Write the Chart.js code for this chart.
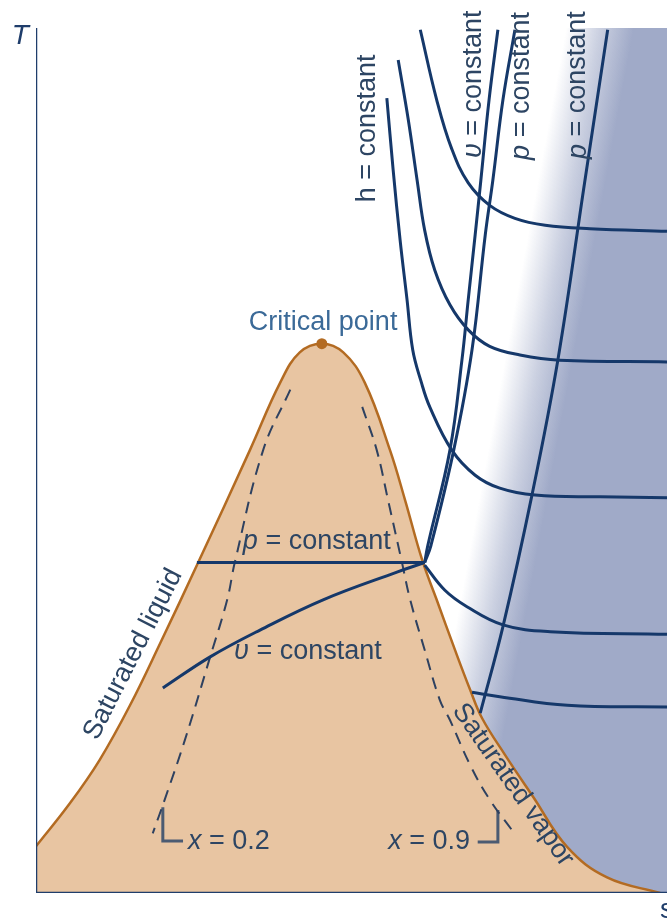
<!DOCTYPE html>
<html>
<head>
<meta charset="utf-8">
<title>T-s diagram</title>
<script src="https://cdn.jsdelivr.net/npm/chart.js@4.4.1/dist/chart.umd.min.js"></script>
<style>
  html, body { margin: 0; padding: 0; background: #fff; }
  canvas { display: block; }
</style>
</head>
<body>
<canvas id="ts" width="667" height="920"></canvas>
<script>
/* T-s diagram: saturation dome with constant p, v, h and quality lines.
 * Axes carry no numbers, so s and T are read on a 0-100 scale of the frame. */

// saturation dome (liquid branch, critical point, vapor branch)
const SAT_S = [0, 5.4, 10.1, 14.9, 19.7, 25.7, 33.9, 38.7, 41.8, 45.3, 48.7, 52.1, 56.1, 58.5, 61.2, 63.5, 66.4, 68.8, 70.7, 74.3, 78.8, 84.2, 90.5, 98.9];
const SAT_T = [5.4, 10.4, 15.4, 21.7, 28.9, 38.2, 51.2, 59.0, 62.5, 63.5, 62.5, 59.0, 51.2, 45.4, 38.5, 33.9, 28.1, 23.5, 20.2, 16.0, 11.1, 5.3, 1.8, 0];
const CRIT = [45.3, 63.5];

// lines that bend over into the superheated region
const H1_S = [60.9, 63.5, 65.9, 68.5, 71.9, 75.9, 80.7, 87.8, 100];
const H1_T = [99.8, 91.7, 86.0, 82.1, 79.5, 78.0, 77.2, 76.8, 76.5];
const H2_S = [57.4, 59.0, 60.4, 61.6, 63.2, 65.6, 68.5, 71.9, 76.7, 83.0, 100];
const H2_T = [96.3, 89.4, 82.4, 76.6, 72.0, 68.0, 65.1, 63.2, 62.2, 61.6, 61.4];
const H3_S = [55.6, 56.6, 57.7, 58.8, 59.7, 61.0, 62.4, 65.9, 69.6, 73.5, 79.1, 89.4, 100];
const H3_T = [91.9, 83.6, 75.5, 68.6, 62.8, 59.2, 56.2, 51.2, 48.3, 46.8, 46.0, 45.8, 45.7];
const H4_S = [61.6, 64.8, 68.3, 74.0, 81.5, 100];
const H4_T = [37.9, 35.0, 33.1, 31.0, 30.2, 29.9];
const H5_S = [69.1, 73.5, 84.2, 100];
const H5_T = [23.2, 22.7, 21.7, 21.5];

// constant volume: inside the dome and above it
const V_DOME_S = [20.1, 27.6, 35.5, 45.5, 57.2, 61.6];
const V_DOME_T = [23.7, 27.3, 30.4, 33.9, 37.1, 38.2];
const V_UP_S = [61.6, 62.1, 65.6, 67.5, 68.5, 69.6, 70.5, 71.8, 73.2];
const V_UP_T = [38.2, 40.2, 51.2, 61.6, 68.6, 76.1, 82.4, 91.7, 99.8];

// constant pressure: flat across the dome, then steep
const P_FLAT_S = [25.5, 61.6];
const P_FLAT_T = [38.2, 38.2];
const P_UP_S = [61.6, 62.6, 66.2, 69.1, 71.2, 72.4, 74.0, 75.9];
const P_UP_T = [38.2, 40.2, 51.2, 62.8, 76.1, 82.4, 91.7, 99.8];
const P2_S = [90.6, 87.0, 82.7, 78.6, 74.0, 70.4];
const P2_T = [99.8, 82.4, 61.6, 46.0, 30.8, 20.8];

// quality lines x = 0.2 and x = 0.9, with their label tags
const X02_S = [40.3, 36.0, 31.5, 30.3, 27.6, 23.6, 20.4, 18.5];
const X02_T = [58.2, 51.2, 38.2, 33.9, 27.3, 17.7, 10.8, 6.9];
const X09_S = [51.7, 54.0, 55.8, 58.0, 59.3, 61.6, 64.0, 65.6, 68.8, 71.9, 75.6];
const X09_T = [56.2, 51.2, 45.4, 38.2, 33.9, 28.1, 22.3, 20.0, 14.8, 10.8, 7.1];
const TAG02_S = [20.1, 20.1, 23.3];
const TAG02_T = [9.9, 6.0, 6.0];
const TAG09_S = [70.0, 73.2, 73.2];
const TAG09_T = [5.9, 5.9, 9.6];

const AXIS_S = [0, 0, 100];
const AXIS_T = [100, 0, 0];

// styling
const NAVY = "#15386a", DOME_LINE = "#b36b22", DOME_FILL = "#e8c5a2";
const DASH = "#2e4160", TAG = "#4b5b72", AXIS = "#1f3d6b", INK = "#2d4563";
const BLUE = [160, 170, 200];
const FADE_FROM = [76.5, 70.3], FADE_TO = [86.9, 68.9]; // blue fade across the vapor region
const FONT = "'Liberation Sans', Arial, sans-serif";

const LABELS = [
  { parts: [["T", 1]], at: [-2.5, 99.0], size: 28, color: AXIS },
  { parts: [["s", 0]], at: [98.9, -2.0], size: 28, align: "left", color: AXIS },
  { parts: [["Critical point", 0]], at: [45.5, 65.9], color: "#3b6a98" },
  { parts: [["h = constant", 0]], at: [52.6, 88.4], rot: -90 },
  { parts: [["υ", 1], [" = constant", 0]], at: [69.4, 93.5], rot: -90 },
  { parts: [["p", 1], [" = constant", 0]], at: [76.9, 93.3], rot: -90 },
  { parts: [["p", 1], [" = constant", 0]], at: [85.9, 93.4], rot: -90 },
  { parts: [["p", 1], [" = constant", 0]], at: [44.5, 40.6] },
  { parts: [["υ", 1], [" = constant", 0]], at: [43.1, 27.9] },
  { parts: [["Saturated liquid", 0]], at: [15.4, 27.6], rot: -63 },
  { parts: [["Saturated vapor", 0]], at: [75.6, 12.5], rot: 55 },
  { parts: [["x", 1], [" = 0.2", 0]], at: [24.1, 5.9], align: "left" },
  { parts: [["x", 1], [" = 0.9", 0]], at: [68.8, 6.0], align: "right" },
];

const pts = (s, t) => s.map((x, i) => ({ x, y: t[i] }));
const line = (s, t, extra) => ({ data: pts(s, t), borderColor: NAVY, borderWidth: 3, pointRadius: 0,
  tension: 0.4, fill: false, order: 2, ...extra });
const rgba = (a) => `rgba(${BLUE.join(",")},${a})`;

function blueFade(ctx) {
  const ch = ctx.chart;
  if (!ch.chartArea) return rgba(1);
  const xs = ch.scales.x, ys = ch.scales.y;
  const g = ch.ctx.createLinearGradient(xs.getPixelForValue(FADE_FROM[0]), ys.getPixelForValue(FADE_FROM[1]),
    xs.getPixelForValue(FADE_TO[0]), ys.getPixelForValue(FADE_TO[1]));
  g.addColorStop(0, rgba(0)); g.addColorStop(0.5, rgba(0.55)); g.addColorStop(1, rgba(1));
  return g;
}

const vaporFrom = SAT_S.findIndex((s) => s > 60);
const vapor = pts(SAT_S.slice(vaporFrom), SAT_T.slice(vaporFrom)).concat({ x: 100, y: 0 });

const labelPlugin = {
  id: "labels",
  afterDatasetsDraw(chart) {
    const { ctx, scales: { x: xs, y: ys } } = chart;
    LABELS.forEach((lb) => {
      const fonts = lb.parts.map(([, it]) => `${it ? "italic " : ""}${lb.size || 27}px ${FONT}`);
      ctx.save();
      ctx.translate(xs.getPixelForValue(lb.at[0]), ys.getPixelForValue(lb.at[1]));
      ctx.rotate((lb.rot || 0) * Math.PI / 180);
      ctx.fillStyle = lb.color || INK;
      ctx.textBaseline = "middle"; ctx.textAlign = "left";
      const w = lb.parts.map(([txt], i) => { ctx.font = fonts[i]; return ctx.measureText(txt).width; });
      const total = w.reduce((a, b) => a + b, 0);
      let cx = lb.align === "left" ? 0 : lb.align === "right" ? -total : -total / 2;
      lb.parts.forEach(([txt], i) => { ctx.font = fonts[i]; ctx.fillText(txt, cx, 0); cx += w[i]; });
      ctx.restore();
    });
  },
};

new Chart(document.getElementById("ts"), {
  type: "line",
  data: {
    datasets: [
      line(AXIS_S, AXIS_T, { borderColor: AXIS, borderWidth: 2.5, tension: 0, order: 0 }),
      { data: [{ x: CRIT[0], y: CRIT[1] }], showLine: false, pointRadius: 5.5, pointBackgroundColor: DOME_LINE,
        pointBorderWidth: 0, order: 1 },
      line(H1_S, H1_T), line(H2_S, H2_T), line(H3_S, H3_T), line(H4_S, H4_T), line(H5_S, H5_T),
      line(V_DOME_S, V_DOME_T), line(V_UP_S, V_UP_T),
      line(P_FLAT_S, P_FLAT_T, { tension: 0 }), line(P_UP_S, P_UP_T), line(P2_S, P2_T),
      line(X02_S, X02_T, { borderColor: DASH, borderWidth: 2, borderDash: [12, 8], order: 3 }),
      line(X09_S, X09_T, { borderColor: DASH, borderWidth: 2, borderDash: [12, 8], order: 3 }),
      line(TAG02_S, TAG02_T, { borderColor: TAG, borderWidth: 3, tension: 0, order: 3 }),
      line(TAG09_S, TAG09_T, { borderColor: TAG, borderWidth: 3, tension: 0, order: 3 }),
      line(SAT_S, SAT_T, { borderColor: DOME_LINE, borderWidth: 2.5, backgroundColor: DOME_FILL,
        fill: "origin", order: 8 }),
      { data: vapor, borderWidth: 0, pointRadius: 0, tension: 0.4, backgroundColor: blueFade, fill: "end", order: 9 },
    ],
  },
  options: {
    responsive: false, animation: false, devicePixelRatio: 1, events: [],
    layout: { autoPadding: false, padding: { left: 36, top: 28, right: 0, bottom: 27 } },
    scales: {
      x: { type: "linear", min: 0, max: 100, display: false },
      y: { type: "linear", min: 0, max: 100, display: false },
    },
    plugins: { legend: { display: false }, tooltip: { enabled: false } },
  },
  plugins: [labelPlugin],
});
</script>
</body>
</html>
